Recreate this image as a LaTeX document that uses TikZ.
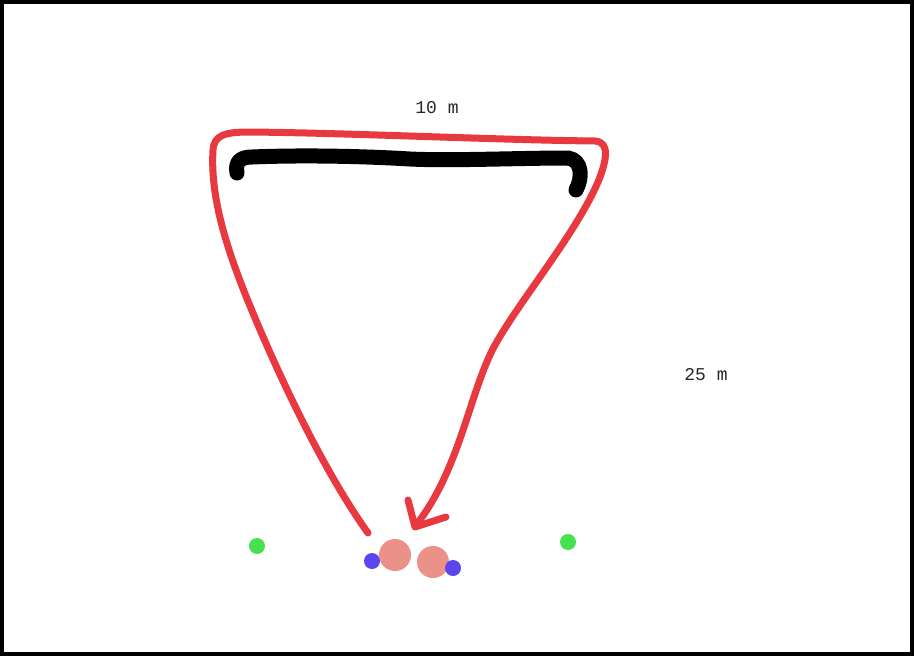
\documentclass[tikz,border=0pt]{standalone}
\usepackage{fontspec}
\setmainfont{Liberation Mono}
\begin{document}
\begin{tikzpicture}[x=1pt,y=-1pt,
  redline/.style={draw={rgb,255:red,232;green,56;blue,64}, line width=7pt, line cap=round, line join=round},
  blackline/.style={draw=black, line width=15pt, line cap=round, line join=round},
  lbl/.style={font=\fontsize{18}{20}\selectfont, text=black!85, inner sep=0pt}]
\definecolor{pinkc}{RGB}{236,145,135}
\definecolor{bluec}{RGB}{90,70,235}
\definecolor{greenc}{RGB}{70,225,80}
\useasboundingbox (0,0) rectangle (914,656);
\fill[white] (0,0) rectangle (914,656);
\draw[line width=4pt] (2,2) rectangle (912,654);
% bracket
\draw[blackline] (237,173) .. controls (235,162) and (240,157) .. (252,157)
  .. controls (300,155) and (360,156) .. (410,159)
  .. controls (450,161) and (520,158) .. (568,158)
  .. controls (582,160) and (583,177) .. (576,190);
% red loop
\draw[redline] (368,533) .. controls (330,480) and (290,400) .. (258,325)
  .. controls (228,255) and (210,200) .. (213,150)
  .. controls (214,135) and (225,132) .. (250,132)
  .. controls (350,133) and (500,140) .. (595,141)
  .. controls (610,142) and (607,160) .. (598,182)
  .. controls (575,235) and (520,300) .. (495,345)
  .. controls (470,390) and (460,470) .. (416,525);
\draw[redline] (408,500) -- (415,527) -- (446,517);
% labels
\node[lbl] (t10) at (437,108) {10 m};
\node[lbl] (t25) at (706,375) {25 m};
% people
\fill[pinkc] (395,555) circle (16);
\fill[pinkc] (433,562) circle (16);
\fill[bluec] (372,561) circle (8);
\fill[bluec] (453,568) circle (8);
\fill[greenc] (257,546) circle (8);
\fill[greenc] (568,542) circle (8);
\end{tikzpicture}
\end{document}
